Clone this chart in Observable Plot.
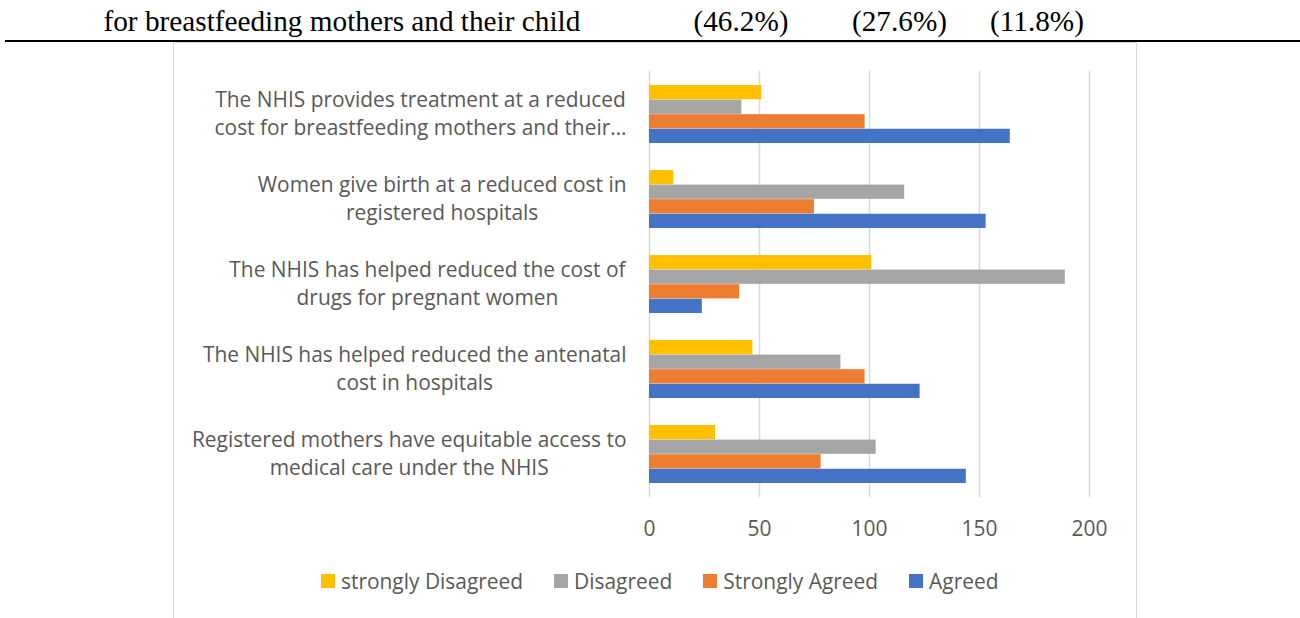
<!DOCTYPE html>
<html>
<head>
<meta charset="utf-8">
<script src="https://cdn.jsdelivr.net/npm/d3@7"></script>
<script src="https://cdn.jsdelivr.net/npm/@observablehq/plot@0.6"></script>
<style>
  body { margin: 0; background: #fff; }
  #wrap { position: relative; width: 1300px; height: 618px; overflow: hidden; background: #fff; }
  .hdr { position: absolute; font-family: "Liberation Serif", "Times New Roman", serif; color: #000; white-space: nowrap; line-height: 1; }
  #rule { position: absolute; left: 5px; top: 40px; width: 1295px; height: 2px; background: #000; }
  #box { position: absolute; left: 173px; top: 42px; width: 964px; height: 620px; border: 1px solid #d9d9d9; box-sizing: border-box; }
  #chart { position: absolute; left: 0; top: 0; }
  #legend { position: absolute; left: 321px; top: 564px; white-space: nowrap; }
  .lg-swatch { margin-right: 31px !important; }
  .lg-swatch > svg { margin-right: 6px !important; }
</style>
</head>
<body>
<div id="wrap">
  <div id="box"></div>
  <div id="rule"></div>
  <div id="chart"></div>
  <div id="legend"></div>
</div>
<script>
// ---- data ----
const categories = [
  "The NHIS provides treatment at a reduced\ncost for breastfeeding mothers and their…",
  "Women give birth at a reduced cost in\nregistered hospitals",
  "The NHIS has helped reduced the cost of\ndrugs for pregnant women",
  "The NHIS has helped reduced the antenatal\ncost in hospitals",
  "Registered mothers have equitable access to\nmedical care under the NHIS"
];
const series = ["strongly Disagreed", "Disagreed", "Strongly Agreed", "Agreed"];
const stronglyDisagreed = [51, 11, 101, 47, 30];
const disagreed = [42, 116, 189, 87, 103];
const stronglyAgreed = [98, 75, 41, 98, 78];
const agreed = [164, 153, 24, 123, 144];
const xTicks = [0, 50, 100, 150, 200];
const headerText = "for breastfeeding mothers and their child";
const headerPercents = ["(46.2%)", "(27.6%)", "(11.8%)"];

// ---- styles ----
const colors = ["#FFC000", "#A5A5A5", "#ED7D31", "#4472C4"];
const sans = "Open Sans";
const serif = "Liberation Serif";

const canvas = document.createElement("canvas");
const ctx = canvas.getContext("2d");
function fit(text, family, width) {
  ctx.font = `100px "${family}"`;
  return 100 * width / ctx.measureText(text).width;
}
const fs = fit("Registered mothers have equitable access to", sans, 435);
const hfs = fit(headerText, serif, 477);

// header
const wrap = document.getElementById("wrap");
const hdrItems = [[headerText, 103.5], [headerPercents[0], 693.5], [headerPercents[1], 852], [headerPercents[2], 990]];
for (const [t, left] of hdrItems) {
  const d = document.createElement("div");
  d.className = "hdr";
  d.textContent = t;
  d.style.fontSize = hfs + "px";
  d.style.left = left + "px";
  d.style.top = (32 - 0.8375 * hfs) + "px";
  wrap.appendChild(d);
}

// rows
const valuesBySeries = [stronglyDisagreed, disagreed, stronglyAgreed, agreed];
const rows = [];
series.forEach((s, i) => categories.forEach((c, j) => rows.push({category: c, series: s, value: valuesBySeries[i][j]})));

const H = 560, mt = 70.5, yBottom = 497, pInner = 0.316;
const step = (yBottom - mt) / categories.length;
const bh = step * (1 - pInner) / series.length;

const marks = [
  Plot.gridX(xTicks, {stroke: "#d9d9d9", strokeOpacity: 1, strokeWidth: 1.5}),
  ...series.map((s, i) => Plot.barX(rows.filter(d => d.series === s), {
    x: "value", y: "category", fill: "series",
    insetTop: i * bh, insetBottom: (series.length - 1 - i) * bh
  })),
  Plot.axisX(xTicks, {tickSize: 0, tickPadding: 24, fontSize: fs, label: null}),
  Plot.axisY({tickSize: 0, tickPadding: 20, textAnchor: "middle", lineHeight: 28.4 / fs, fontSize: fs, dy: -2.5, label: null})
];

const chart = Plot.plot({
  width: 1300,
  height: H,
  marginTop: mt,
  marginBottom: H - yBottom,
  marginLeft: 649,
  marginRight: 1300 - 1089,
  style: {fontFamily: sans, fontSize: fs + "px", color: "#595959", background: "transparent"},
  x: {domain: [0, 200], axis: null, label: null},
  y: {domain: categories, paddingInner: pInner, paddingOuter: pInner / 2, axis: null, label: null},
  color: {domain: series, range: colors},
  marks
});
document.getElementById("chart").appendChild(chart);

// right-align the centered multi-line y labels to a common edge
const svgRect = chart.getBoundingClientRect();
chart.querySelectorAll('[aria-label="y-axis tick label"] text').forEach(el => {
  const r = el.getBoundingClientRect();
  const dx = 626.5 - (r.right - svgRect.left);
  el.setAttribute("transform", (el.getAttribute("transform") || "") + ` translate(${dx},0)`);
});

// legend
const leg = Plot.legend({
  color: {domain: series, range: colors},
  legend: "swatches",
  swatchSize: 14,
  className: "lg",
  style: {fontFamily: sans, fontSize: fs + "px", color: "#595959", margin: 0}
});
document.getElementById("legend").appendChild(leg);
</script>
</body>
</html>
